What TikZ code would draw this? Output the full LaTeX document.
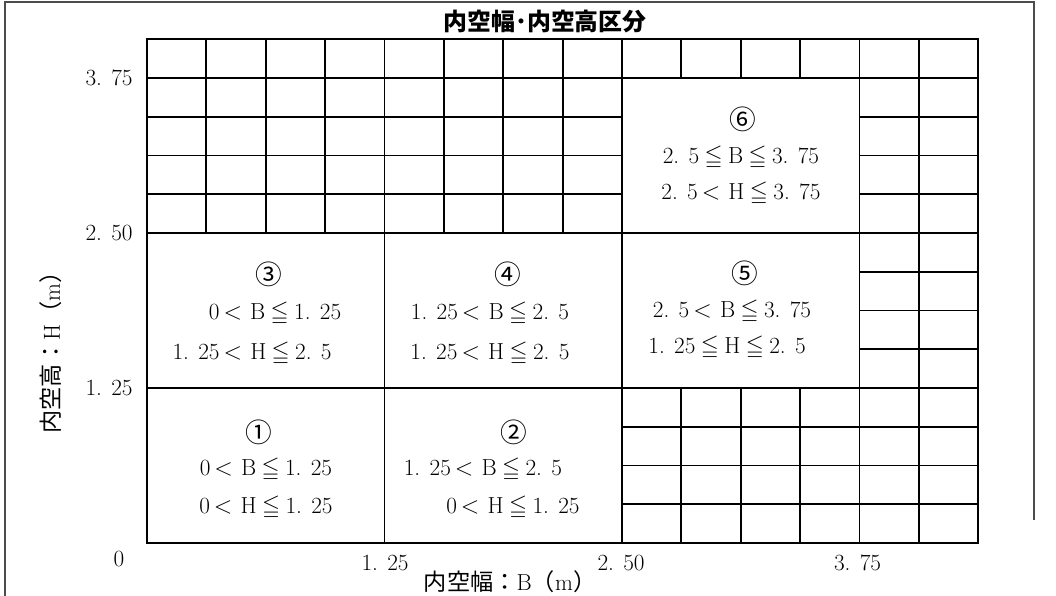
\documentclass[tikz,border=0pt]{standalone}
\usepackage{amssymb}
\usepackage{fontspec}
\usetikzlibrary{positioning}
\newfontfamily\jpfont{Noto Sans CJK JP}
\newcommand\jlt{\ensuremath{\mskip3mu<\mskip6mu}}
\newcommand\jle{\ensuremath{\mskip4mu\leqq\mskip4mu}}

\begin{document}
\begin{tikzpicture}[x=4.75cm, y=3.1cm,
    gridline/.style={line width=1.3pt},
    outline/.style={line width=1.6pt},
    celltext/.style={font=\fontsize{16.5}{19}\selectfont, inner sep=0pt},
    circnum/.style={font=\jpfont\fontsize{19}{21}\selectfont, inner sep=0pt},
    ticklabel/.style={font=\fontsize{16.5}{19}\selectfont, inner sep=0pt},
    border/.style={draw=black!70, line width=1pt}
  ]
  \useasboundingbox (-0.7737,-0.4274) rectangle (4.7842,4.3790);
  % outer frame of the figure
  \draw[border] (-0.747,-0.4274) -- (-0.747,4.363) -- (4.668,4.363) -- (4.668,0.185);

  % small cells
  \foreach \k in {1,...,13}
    \draw[gridline] (\k*0.3125,3.75) -- (\k*0.3125,4.0625);
  \foreach \k in {1,...,7}
    \draw[gridline] (\k*0.3125,2.5) -- ++(0,1.25);
  \foreach \k in {9,10,11}
    \draw[gridline] (\k*0.3125,0) -- ++(0,1.25);
  \draw[gridline] (4.0625,0) -- (4.0625,4.0625);
  \foreach \y in {2.8125,3.125,3.4375} {
    \draw[gridline] (0,\y) -- (2.5,\y);
    \draw[gridline] (3.75,\y) -- (4.375,\y);
  }
  \foreach \y in {1.5625,1.875,2.1875}
    \draw[gridline] (3.75,\y) -- (4.375,\y);
  \foreach \y in {0.3125,0.625,0.9375}
    \draw[gridline] (2.5,\y) -- (4.375,\y);

  % region borders
  \foreach \v in {1.25,2.5,3.75} {
    \draw[gridline] (\v,0) -- (\v,4.0625);
    \draw[gridline] (0,\v) -- (4.375,\v);
  }
  \draw[outline] (0,0) rectangle (4.375,4.0625);

  % regions
  \node[circnum] (n1) at (0.589,0.895) {①};
  \node[celltext] (b1) at (0.626,0.589) {0\jlt B\jle 1. 25};
  \node[celltext] (h1) at (0.626,0.282) {0\jlt H\jle 1. 25};

  \node[circnum] (n2) at (1.932,0.895) {②};
  \node[celltext] (b2) at (1.768,0.589) {1. 25\jlt B\jle 2. 5};
  \node[celltext] (h2) at (1.926,0.282) {0\jlt H\jle 1. 25};

  \node[circnum] (n3) at (0.642,2.169) {③};
  \node[celltext] (b3) at (0.674,1.847) {0\jlt B\jle 1. 25};
  \node[celltext] (h3) at (0.553,1.524) {1. 25\jlt H\jle 2. 5};

  \node[circnum] (n4) at (1.900,2.169) {④};
  \node[celltext] (b4) at (1.805,1.847) {1. 25\jlt B\jle 2. 5};
  \node[celltext] (h4) at (1.805,1.524) {1. 25\jlt H\jle 2. 5};

  \node[circnum] (n5) at (3.147,2.177) {⑤};
  \node[celltext] (b5) at (3.079,1.863) {2. 5\jlt B\jle 3. 75};
  \node[celltext] (h5) at (3.053,1.573) {1. 25\jle H\jle 2. 5};

  \node[circnum] (n6) at (3.137,3.419) {⑥};
  \node[celltext] (b6) at (3.126,3.105) {2. 5\jle B\jle 3. 75};
  \node[celltext] (h6) at (3.126,2.815) {2. 5\jlt H\jle 3. 75};

  % axis ticks
  \node[ticklabel, anchor=east] (y3) at (-0.074,3.75) {3. 75};
  \node[ticklabel, anchor=east] (y2) at (-0.074,2.5) {2. 50};
  \node[ticklabel, anchor=east] (y1) at (-0.074,1.25) {1. 25};
  \node[ticklabel] (x0) at (-0.147,-0.129) {0};
  \node[ticklabel] (x1) at (1.253,-0.161) {1. 25};
  \node[ticklabel] (x2) at (2.495,-0.161) {2. 50};
  \node[ticklabel] (x3) at (3.74,-0.161) {3. 75};

  % titles
  \node[ticklabel] (xlabel) at (1.911,-0.315) {{\jpfont 内空幅：}B{\jpfont （}m{\jpfont ）}};
  \node[ticklabel, rotate=90] (ylabel) at (-0.505,1.581) {{\jpfont 内空高：}H{\jpfont （}m{\jpfont ）}};
  \node[font=\jpfont\bfseries\fontsize{17}{20}\selectfont, inner sep=0pt] (title) at (2.095,4.202) {内空幅･内空高区分};
\end{tikzpicture}
\end{document}
